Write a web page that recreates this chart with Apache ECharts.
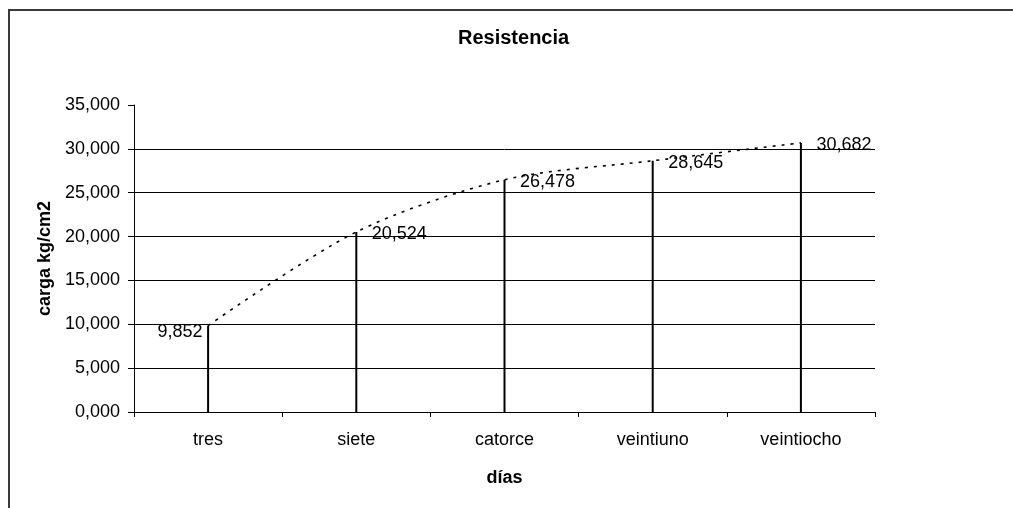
<!DOCTYPE html>
<html>
<head>
<meta charset="utf-8">
<title>Resistencia</title>
<script src="https://cdn.jsdelivr.net/npm/echarts@6/dist/echarts.min.js"></script>
<style>
  html, body { margin: 0; padding: 0; background: #fff; }
  #chart { width: 1013px; height: 508px; }
</style>
</head>
<body>
<div id="chart"></div>
<script>
// Test ages and measured strength (kg/cm2)
const dias = ['tres', 'siete', 'catorce', 'veintiuno', 'veintiocho'];
const carga = [9.852, 20.524, 26.478, 28.645, 30.682];

const FONT = '"Liberation Sans", Arial, sans-serif';
const fmt = v => v.toFixed(3).replace('.', ',');

const chart = echarts.init(document.getElementById('chart'), null, { renderer: 'canvas' });

chart.setOption({
  animation: false,
  backgroundColor: '#fff',
  textStyle: { fontFamily: FONT, color: '#000' },
  title: {
    text: 'Resistencia',
    left: 458,
    top: 28,
    padding: 0,
    textStyle: { fontFamily: FONT, fontSize: 20, fontWeight: 'bold', color: '#000' }
  },
  graphic: [{
    type: 'rect',
    shape: { x: 9, y: 10, width: 1200, height: 700 },
    style: { fill: 'none', stroke: '#3a3a3a', lineWidth: 2 },
    silent: true,
    z: -1
  }],
  grid: { left: 134, right: 138, top: 105, bottom: 96, containLabel: false },
  xAxis: {
    type: 'category',
    data: dias,
    boundaryGap: true,
    name: 'días',
    nameLocation: 'middle',
    nameGap: 57,
    nameTextStyle: { fontFamily: FONT, fontSize: 18, fontWeight: 'bold', color: '#000' },
    axisLine: { show: true, lineStyle: { color: '#000', width: 1 } },
    axisTick: { show: true, length: 5, lineStyle: { color: '#000' } },
    axisLabel: { fontFamily: FONT, fontSize: 18, color: '#000', margin: 19 },
    splitLine: { show: false }
  },
  yAxis: {
    type: 'value',
    min: 0,
    max: 35,
    interval: 5,
    name: 'carga kg/cm2',
    nameLocation: 'middle',
    nameGap: 80,
    nameTextStyle: { fontFamily: FONT, fontSize: 18, fontWeight: 'bold', color: '#000' },
    axisLine: { show: true, lineStyle: { color: '#000', width: 1 } },
    axisTick: { show: true, length: 6, lineStyle: { color: '#000' } },
    axisLabel: { fontFamily: FONT, fontSize: 18, color: '#000', margin: 14, formatter: fmt },
    splitLine: { show: true, showMaxLine: false, lineStyle: { color: '#000', width: 1 } }
  },
  series: [
    {
      // vertical drop lines from each reading down to the axis
      type: 'bar',
      data: carga,
      barWidth: 2,
      itemStyle: { color: '#000' },
      silent: true,
      z: 2
    },
    {
      type: 'line',
      data: carga.map((v, i) => ({
        value: v,
        label: i === 0
          ? { position: 'left', distance: 5, offset: [0, 6] }
          : { position: 'right', distance: 15, offset: [0, 2] }
      })),
      smooth: 0.3,
      symbol: 'circle',
      symbolSize: 1,
      showSymbol: true,
      itemStyle: { color: 'rgba(0,0,0,0)' },
      lineStyle: { color: '#000', width: 1.6, type: [3, 6] },
      label: {
        show: true,
        fontFamily: FONT,
        fontSize: 18,
        color: '#000',
        formatter: p => fmt(p.value)
      },
      z: 3
    }
  ]
});
</script>
</body>
</html>
